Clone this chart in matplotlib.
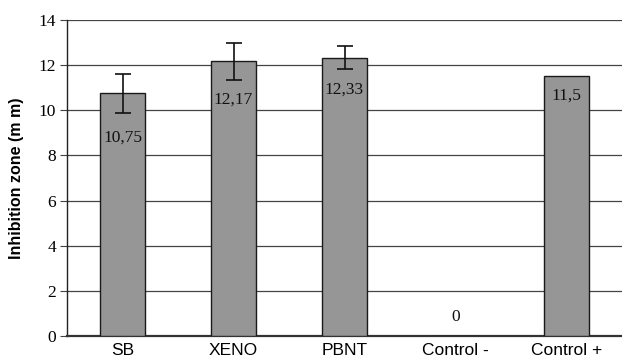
import matplotlib
matplotlib.use("Agg")
import matplotlib.pyplot as plt

categories = ["SB", "XENO", "PBNT", "Control -", "Control +"]
values = [10.75, 12.17, 12.33, 0, 11.5]
errors = [0.86, 0.83, 0.5, 0, 0]
labels = ["10,75", "12,17", "12,33", "0", "11,5"]
label_y = [8.8, 10.45, 10.9, 0.84, 10.63]
yticks = [0, 2, 4, 6, 8, 10, 12, 14]

fig = plt.figure(figsize=(6.22, 3.63), dpi=100)
ax = fig.add_axes([67/622, 27/363, 555/622, 316/363])

x = list(range(len(categories)))
err_idx = [i for i in x if errors[i] > 0]
ax.bar(x, values, width=0.4, color="#969696", edgecolor="#1a1a1a", linewidth=1.0, zorder=3)
ax.errorbar([x[i] for i in err_idx], [values[i] for i in err_idx],
            yerr=[errors[i] for i in err_idx], fmt="none", ecolor="#111111",
            elinewidth=1.2, capsize=6, capthick=1.2, zorder=4)
for xi, ly, lab in zip(x, label_y, labels):
    ax.text(xi, ly, lab, ha="center", va="center", fontsize=12.5,
            family="Liberation Serif", color="#111111", zorder=5)

ax.set_xlim(-0.5, len(categories) - 0.5)
ax.set_ylim(0, 14)
ax.set_yticks(yticks)
ax.set_yticklabels([str(t) for t in yticks], family="Liberation Serif", fontsize=12.5)
ax.set_xticks(x)
ax.set_xticklabels(categories, family="Liberation Sans", fontsize=12.5)
ax.tick_params(axis="x", length=0, pad=5)
ax.tick_params(axis="y", length=5, width=0.8, color="#444444", pad=3)
ax.yaxis.grid(True, color="#444444", linewidth=0.9, zorder=0)
for s in ["top", "right"]:
    ax.spines[s].set_visible(False)
ax.spines["left"].set_color("#222222")
ax.spines["left"].set_linewidth(1.0)
ax.spines["bottom"].set_color("#333333")
ax.spines["bottom"].set_linewidth(1.6)
ax.set_ylabel("Inhibition zone (m m)", family="Liberation Sans", fontweight="bold",
              fontsize=11.5, labelpad=10)

fig.savefig("out.png", dpi=100)
